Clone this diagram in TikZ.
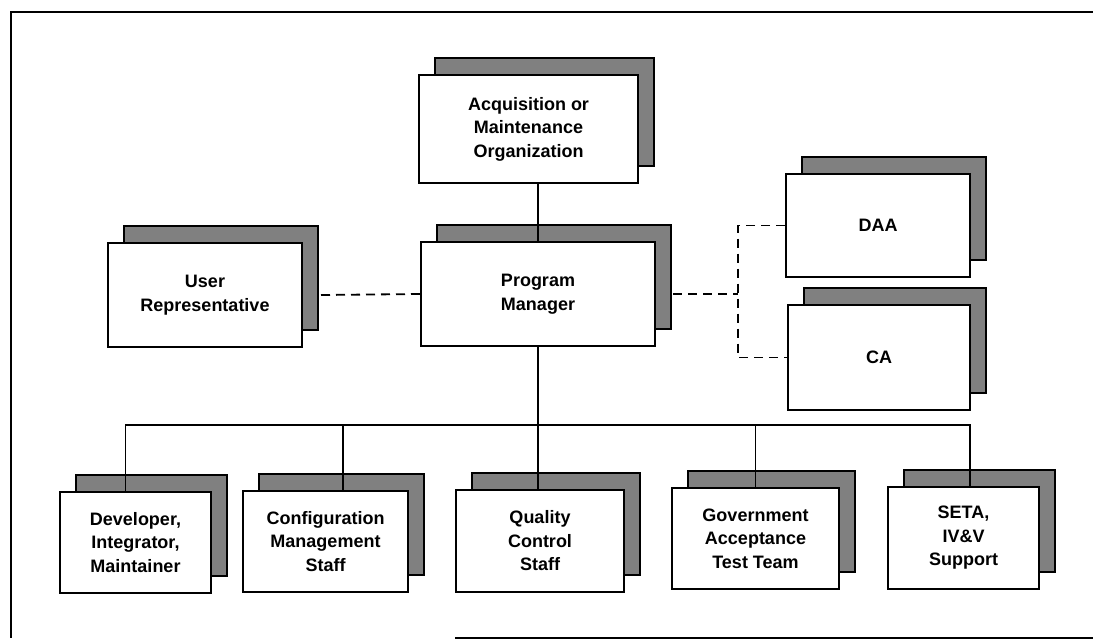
\documentclass[tikz,border=0pt]{standalone}
\usepackage{fontspec}
\setmainfont{Liberation Sans}
\usetikzlibrary{shadows, calc, positioning}
\tikzstyle{unit} = [rectangle, draw=black, fill=white, line width=2pt,
	align=center, font=\fontsize{18}{23.5}\selectfont\bfseries,
	copy shadow={shadow xshift=16pt, shadow yshift=17pt, fill=black!50, draw=black, line width=2pt}]
\tikzstyle{link} = [line width=1.8pt]
\tikzstyle{liaison} = [line width=1.8pt, dash pattern=on 9pt off 6pt]

\begin{document}
\begin{tikzpicture}[x=1pt, y=-1pt]
	\useasboundingbox (0,0) rectangle (1093,641);

	% frame
	\draw [line width=1.8pt] (1093,12) -- (11,12) -- (11,638);
	\draw [line width=1.8pt] (455,638) -- (1093,638);

	\node (acq) [unit, minimum width=219pt, minimum height=108pt] at (528.5,129) {Acquisition or\\Maintenance\\Organization};
	\node (pm) [unit, minimum width=234pt, minimum height=104pt] at (538,294) {Program\\Manager};
	\node (user) [unit, minimum width=194pt, minimum height=104pt] at (205,295) {User\\Representative};
	\node (daa) [unit, minimum width=184pt, minimum height=103pt] at (878,225.5) {DAA};
	\node (ca) [unit, minimum width=182pt, minimum height=105pt] at (879,357.5) {CA};

	\node (dev) [unit, minimum width=151pt, minimum height=101pt] at (135.5,542.5) {Developer,\\Integrator,\\Maintainer};
	\node (cfg) [unit, minimum width=165pt, minimum height=101pt] at (325.5,541.5) {Configuration\\Management\\Staff};
	\node (qc) [unit, minimum width=168pt, minimum height=102pt] at (540,541) {Quality\\Control\\Staff};
	\node (gov) [unit, minimum width=167pt, minimum height=101pt] at (755.5,538.5) {Government\\Acceptance\\Test Team};
	\node (seta) [unit, minimum width=151pt, minimum height=102pt] at (963.5,538) {SETA,\\IV\&V\\Support};

	\coordinate (bus) at (538,425);
	\coordinate (split) at (738,294);

	% solid lines
	\draw [link] (pm.north) -- (pm.north |- acq.south);
	\draw [link] (pm.south) -- (pm.south |- qc.north);
	\draw [link] ([xshift=-10pt]dev.north) |- (bus) -| ([xshift=6.5pt]seta.north);
	\draw [link] ([xshift=17.5pt]cfg.north) -- ([xshift=17.5pt]cfg.north |- bus);
	\draw [link] (gov.north) -- (gov.north |- bus);

	% dashed lines
	\draw [liaison] ([xshift=18pt]user.east) -- (pm.west);
	\draw [liaison] ([xshift=17pt]pm.east) -- (split);
	\draw [liaison] (daa.west) -| (split) |- (ca.west);
\end{tikzpicture}
\end{document}
